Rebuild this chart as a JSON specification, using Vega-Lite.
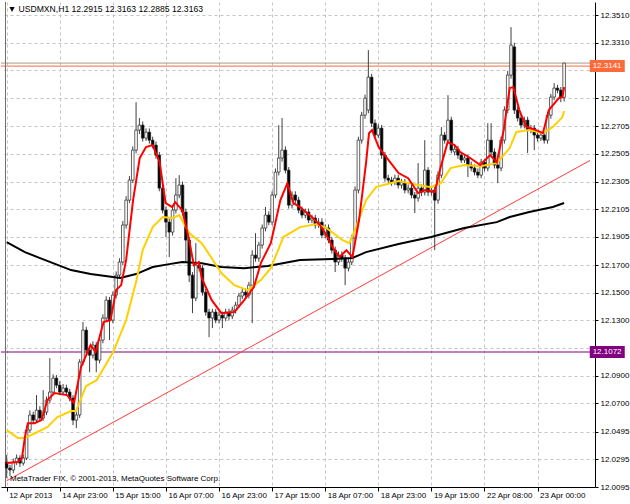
{
 "$schema": "https://vega.github.io/schema/vega-lite/v6.json",
 "width": 594, "height": 485,
 "autosize": {"type": "none"},
 "padding": {"left": 1, "top": 2, "right": 35, "bottom": 17},
 "background": "white",
 "config": {"view": {"stroke": null}, "font": "Liberation Sans",
   "axis": {"labelFont": "Liberation Sans", "labelFontSize": 8, "labelColor": "black", "domainColor": "black", "tickColor": "black", "gridColor": "#c4c4c4", "gridDash": [3,3], "title": null, "labelOverlap": false, "labelSeparation": 0}},
 "datasets": {
  "bars": [
{"i":0,"o":12.0276,"h":12.0326,"l":12.0160,"c":12.0232},
{"i":1,"o":12.0232,"h":12.0255,"l":12.0174,"c":12.0218},
{"i":2,"o":12.0218,"h":12.0300,"l":12.0195,"c":12.0276},
{"i":3,"o":12.0276,"h":12.0330,"l":12.0255,"c":12.0304},
{"i":4,"o":12.0304,"h":12.0325,"l":12.0240,"c":12.0268},
{"i":5,"o":12.0268,"h":12.0330,"l":12.0250,"c":12.0304},
{"i":6,"o":12.0304,"h":12.0535,"l":12.0290,"c":12.0507},
{"i":7,"o":12.0507,"h":12.0650,"l":12.0490,"c":12.0616},
{"i":8,"o":12.0616,"h":12.0640,"l":12.0555,"c":12.0579},
{"i":9,"o":12.0579,"h":12.0760,"l":12.0560,"c":12.0651},
{"i":10,"o":12.0651,"h":12.0680,"l":12.0570,"c":12.0594},
{"i":11,"o":12.0594,"h":12.0796,"l":12.0575,"c":12.0637},
{"i":12,"o":12.0637,"h":12.0750,"l":12.0615,"c":12.0724},
{"i":13,"o":12.0724,"h":12.1028,"l":12.0700,"c":12.0782},
{"i":14,"o":12.0782,"h":12.0910,"l":12.0765,"c":12.0883},
{"i":15,"o":12.0883,"h":12.0905,"l":12.0810,"c":12.0832},
{"i":16,"o":12.0832,"h":12.0860,"l":12.0760,"c":12.0782},
{"i":17,"o":12.0782,"h":12.0840,"l":12.0765,"c":12.0811},
{"i":18,"o":12.0811,"h":12.0835,"l":12.0760,"c":12.0782},
{"i":19,"o":12.0782,"h":12.0805,"l":12.0715,"c":12.0738},
{"i":20,"o":12.0738,"h":12.0760,"l":12.0543,"c":12.0579},
{"i":21,"o":12.0579,"h":12.0640,"l":12.0522,"c":12.0616},
{"i":22,"o":12.0616,"h":12.1020,"l":12.0595,"c":12.0999},
{"i":23,"o":12.0999,"h":12.1289,"l":12.0975,"c":12.1230},
{"i":24,"o":12.1230,"h":12.1255,"l":12.1060,"c":12.1086},
{"i":25,"o":12.1086,"h":12.1110,"l":12.0926,"c":12.1049},
{"i":26,"o":12.1049,"h":12.1150,"l":12.1025,"c":12.1122},
{"i":27,"o":12.1122,"h":12.1145,"l":12.0926,"c":12.1013},
{"i":28,"o":12.1013,"h":12.1185,"l":12.0990,"c":12.1158},
{"i":29,"o":12.1158,"h":12.1345,"l":12.1135,"c":12.1318},
{"i":30,"o":12.1318,"h":12.1475,"l":12.1295,"c":12.1447},
{"i":31,"o":12.1447,"h":12.1470,"l":12.1158,"c":12.1303},
{"i":32,"o":12.1303,"h":12.1510,"l":12.1280,"c":12.1484},
{"i":33,"o":12.1484,"h":12.1655,"l":12.1460,"c":12.1628},
{"i":34,"o":12.1628,"h":12.1750,"l":12.1605,"c":12.1723},
{"i":35,"o":12.1723,"h":12.2020,"l":12.1700,"c":12.1991},
{"i":36,"o":12.1991,"h":12.2200,"l":12.1965,"c":12.2171},
{"i":37,"o":12.2171,"h":12.2345,"l":12.2150,"c":12.2316},
{"i":38,"o":12.2316,"h":12.2560,"l":12.2295,"c":12.2533},
{"i":39,"o":12.2533,"h":12.2880,"l":12.2510,"c":12.2678},
{"i":40,"o":12.2678,"h":12.2765,"l":12.2650,"c":12.2714},
{"i":41,"o":12.2714,"h":12.2740,"l":12.2595,"c":12.2620},
{"i":42,"o":12.2620,"h":12.2690,"l":12.2600,"c":12.2663},
{"i":43,"o":12.2663,"h":12.2690,"l":12.2580,"c":12.2605},
{"i":44,"o":12.2605,"h":12.2630,"l":12.2545,"c":12.2569},
{"i":45,"o":12.2569,"h":12.2595,"l":12.2470,"c":12.2497},
{"i":46,"o":12.2497,"h":12.2520,"l":12.2235,"c":12.2258},
{"i":47,"o":12.2258,"h":12.2280,"l":12.2075,"c":12.2099},
{"i":48,"o":12.2099,"h":12.2125,"l":12.1904,"c":12.2012},
{"i":49,"o":12.2012,"h":12.2040,"l":12.1759,"c":12.1940},
{"i":50,"o":12.1940,"h":12.2125,"l":12.1915,"c":12.2099},
{"i":51,"o":12.2099,"h":12.2330,"l":12.2075,"c":12.2208},
{"i":52,"o":12.2208,"h":12.2352,"l":12.2185,"c":12.2280},
{"i":53,"o":12.2280,"h":12.2305,"l":12.2060,"c":12.2085},
{"i":54,"o":12.2085,"h":12.2110,"l":12.1723,"c":12.1882},
{"i":55,"o":12.1882,"h":12.1905,"l":12.1578,"c":12.1628},
{"i":56,"o":12.1628,"h":12.1650,"l":12.1353,"c":12.1462},
{"i":57,"o":12.1462,"h":12.1860,"l":12.1440,"c":12.1701},
{"i":58,"o":12.1701,"h":12.1725,"l":12.1655,"c":12.1679},
{"i":59,"o":12.1679,"h":12.1700,"l":12.1480,"c":12.1505},
{"i":60,"o":12.1505,"h":12.1530,"l":12.1335,"c":12.1361},
{"i":61,"o":12.1361,"h":12.1385,"l":12.1180,"c":12.1318},
{"i":62,"o":12.1318,"h":12.1385,"l":12.1245,"c":12.1361},
{"i":63,"o":12.1361,"h":12.1385,"l":12.1280,"c":12.1303},
{"i":64,"o":12.1303,"h":12.1365,"l":12.1280,"c":12.1339},
{"i":65,"o":12.1339,"h":12.1365,"l":12.1245,"c":12.1318},
{"i":66,"o":12.1318,"h":12.1385,"l":12.1295,"c":12.1361},
{"i":67,"o":12.1361,"h":12.1385,"l":12.1305,"c":12.1332},
{"i":68,"o":12.1332,"h":12.1400,"l":12.1310,"c":12.1375},
{"i":69,"o":12.1375,"h":12.1435,"l":12.1350,"c":12.1411},
{"i":70,"o":12.1411,"h":12.1500,"l":12.1390,"c":12.1477},
{"i":71,"o":12.1477,"h":12.1530,"l":12.1455,"c":12.1505},
{"i":72,"o":12.1505,"h":12.1530,"l":12.1460,"c":12.1484},
{"i":73,"o":12.1484,"h":12.1580,"l":12.1460,"c":12.1556},
{"i":74,"o":12.1556,"h":12.1809,"l":12.1281,"c":12.1773},
{"i":75,"o":12.1773,"h":12.1932,"l":12.1725,"c":12.1751},
{"i":76,"o":12.1751,"h":12.1870,"l":12.1725,"c":12.1846},
{"i":77,"o":12.1846,"h":12.1995,"l":12.1820,"c":12.1969},
{"i":78,"o":12.1969,"h":12.2121,"l":12.1945,"c":12.2063},
{"i":79,"o":12.2063,"h":12.2090,"l":12.1990,"c":12.2012},
{"i":80,"o":12.2012,"h":12.2235,"l":12.1990,"c":12.2208},
{"i":81,"o":12.2208,"h":12.2400,"l":12.2185,"c":12.2374},
{"i":82,"o":12.2374,"h":12.2714,"l":12.2350,"c":12.2476},
{"i":83,"o":12.2476,"h":12.2765,"l":12.2450,"c":12.2533},
{"i":84,"o":12.2533,"h":12.2560,"l":12.2365,"c":12.2388},
{"i":85,"o":12.2388,"h":12.2410,"l":12.2110,"c":12.2135},
{"i":86,"o":12.2135,"h":12.2235,"l":12.2110,"c":12.2208},
{"i":87,"o":12.2208,"h":12.2235,"l":12.2145,"c":12.2171},
{"i":88,"o":12.2171,"h":12.2195,"l":12.2075,"c":12.2099},
{"i":89,"o":12.2099,"h":12.2125,"l":12.2040,"c":12.2063},
{"i":90,"o":12.2063,"h":12.2110,"l":12.2040,"c":12.2085},
{"i":91,"o":12.2085,"h":12.2110,"l":12.2005,"c":12.2027},
{"i":92,"o":12.2027,"h":12.2065,"l":12.2005,"c":12.2041},
{"i":93,"o":12.2041,"h":12.2065,"l":12.1965,"c":12.1991},
{"i":94,"o":12.1991,"h":12.2040,"l":12.1970,"c":12.2012},
{"i":95,"o":12.2012,"h":12.2040,"l":12.1895,"c":12.1918},
{"i":96,"o":12.1918,"h":12.1995,"l":12.1895,"c":12.1969},
{"i":97,"o":12.1969,"h":12.1995,"l":12.1860,"c":12.1882},
{"i":98,"o":12.1882,"h":12.1905,"l":12.1785,"c":12.1809},
{"i":99,"o":12.1809,"h":12.1835,"l":12.1651,"c":12.1723},
{"i":100,"o":12.1723,"h":12.1800,"l":12.1700,"c":12.1773},
{"i":101,"o":12.1773,"h":12.1800,"l":12.1725,"c":12.1751},
{"i":102,"o":12.1751,"h":12.1775,"l":12.1556,"c":12.1679},
{"i":103,"o":12.1679,"h":12.1750,"l":12.1655,"c":12.1723},
{"i":104,"o":12.1723,"h":12.1920,"l":12.1700,"c":12.1896},
{"i":105,"o":12.1896,"h":12.2270,"l":12.1875,"c":12.2244},
{"i":106,"o":12.2244,"h":12.2630,"l":12.2220,"c":12.2605},
{"i":107,"o":12.2605,"h":12.2810,"l":12.2580,"c":12.2786},
{"i":108,"o":12.2786,"h":12.2935,"l":12.2760,"c":12.2909},
{"i":109,"o":12.2823,"h":12.3257,"l":12.2800,"c":12.3061},
{"i":110,"o":12.3061,"h":12.3085,"l":12.2700,"c":12.2728},
{"i":111,"o":12.2728,"h":12.2755,"l":12.2615,"c":12.2642},
{"i":112,"o":12.2642,"h":12.2720,"l":12.2620,"c":12.2692},
{"i":113,"o":12.2692,"h":12.2715,"l":12.2470,"c":12.2497},
{"i":114,"o":12.2497,"h":12.2520,"l":12.2305,"c":12.2330},
{"i":115,"o":12.2330,"h":12.2355,"l":12.2290,"c":12.2316},
{"i":116,"o":12.2316,"h":12.2340,"l":12.2275,"c":12.2301},
{"i":117,"o":12.2301,"h":12.2355,"l":12.2280,"c":12.2330},
{"i":118,"o":12.2330,"h":12.2355,"l":12.2255,"c":12.2280},
{"i":119,"o":12.2280,"h":12.2325,"l":12.2255,"c":12.2301},
{"i":120,"o":12.2301,"h":12.2325,"l":12.2220,"c":12.2244},
{"i":121,"o":12.2244,"h":12.2285,"l":12.2220,"c":12.2258},
{"i":122,"o":12.2258,"h":12.2285,"l":12.2185,"c":12.2208},
{"i":123,"o":12.2208,"h":12.2230,"l":12.2078,"c":12.2186},
{"i":124,"o":12.2186,"h":12.2439,"l":12.2160,"c":12.2258},
{"i":125,"o":12.2258,"h":12.2285,"l":12.2200,"c":12.2229},
{"i":126,"o":12.2229,"h":12.2605,"l":12.2205,"c":12.2388},
{"i":127,"o":12.2388,"h":12.2410,"l":12.2200,"c":12.2229},
{"i":128,"o":12.2229,"h":12.2270,"l":12.2205,"c":12.2244},
{"i":129,"o":12.2244,"h":12.2270,"l":12.1809,"c":12.2171},
{"i":130,"o":12.2171,"h":12.2380,"l":12.2145,"c":12.2352},
{"i":131,"o":12.2352,"h":12.2700,"l":12.2330,"c":12.2642},
{"i":132,"o":12.2642,"h":12.2665,"l":12.2580,"c":12.2605},
{"i":133,"o":12.2605,"h":12.2931,"l":12.2580,"c":12.2750},
{"i":134,"o":12.2750,"h":12.2775,"l":12.2510,"c":12.2533},
{"i":135,"o":12.2520,"h":12.2565,"l":12.2495,"c":12.2540},
{"i":136,"o":12.2540,"h":12.2565,"l":12.2470,"c":12.2497},
{"i":137,"o":12.2497,"h":12.2520,"l":12.2440,"c":12.2461},
{"i":138,"o":12.2461,"h":12.2500,"l":12.2440,"c":12.2476},
{"i":139,"o":12.2476,"h":12.2500,"l":12.2338,"c":12.2425},
{"i":140,"o":12.2425,"h":12.2450,"l":12.2380,"c":12.2403},
{"i":141,"o":12.2403,"h":12.2430,"l":12.2350,"c":12.2374},
{"i":142,"o":12.2374,"h":12.2400,"l":12.2330,"c":12.2352},
{"i":143,"o":12.2352,"h":12.2470,"l":12.2330,"c":12.2446},
{"i":144,"o":12.2446,"h":12.2470,"l":12.2380,"c":12.2403},
{"i":145,"o":12.2403,"h":12.2728,"l":12.2380,"c":12.2605},
{"i":146,"o":12.2605,"h":12.2728,"l":12.2495,"c":12.2519},
{"i":147,"o":12.2519,"h":12.2545,"l":12.2400,"c":12.2425},
{"i":148,"o":12.2425,"h":12.2450,"l":12.2294,"c":12.2403},
{"i":149,"o":12.2403,"h":12.2630,"l":12.2380,"c":12.2605},
{"i":150,"o":12.2605,"h":12.2850,"l":12.2580,"c":12.2823},
{"i":151,"o":12.2823,"h":12.3105,"l":12.2800,"c":12.3076},
{"i":152,"o":12.3076,"h":12.3423,"l":12.3050,"c":12.3293},
{"i":153,"o":12.3280,"h":12.3310,"l":12.2795,"c":12.2823},
{"i":154,"o":12.2823,"h":12.2850,"l":12.2740,"c":12.2765},
{"i":155,"o":12.2765,"h":12.2790,"l":12.2690,"c":12.2714},
{"i":156,"o":12.2714,"h":12.2775,"l":12.2690,"c":12.2750},
{"i":157,"o":12.2750,"h":12.2775,"l":12.2512,"c":12.2678},
{"i":158,"o":12.2678,"h":12.2715,"l":12.2655,"c":12.2692},
{"i":159,"o":12.2692,"h":12.2715,"l":12.2533,"c":12.2642},
{"i":160,"o":12.2642,"h":12.2665,"l":12.2595,"c":12.2620},
{"i":161,"o":12.2620,"h":12.2665,"l":12.2600,"c":12.2642},
{"i":162,"o":12.2642,"h":12.2665,"l":12.2580,"c":12.2605},
{"i":163,"o":12.2605,"h":12.2810,"l":12.2580,"c":12.2786},
{"i":164,"o":12.2786,"h":12.2940,"l":12.2760,"c":12.2917},
{"i":165,"o":12.2917,"h":12.3018,"l":12.2895,"c":12.2982},
{"i":166,"o":12.2982,"h":12.3005,"l":12.2945,"c":12.2967},
{"i":167,"o":12.2967,"h":12.2990,"l":12.2880,"c":12.2917},
{"i":168,"o":12.2915,"h":12.3163,"l":12.2885,"c":12.3163}
  ],
  "slow": [
{"i":0,"p":12.1868},{"i":5.5,"p":12.1795},{"i":9.3,"p":12.1759},{"i":19.4,"p":12.1665},{"i":25.3,"p":12.1636},{"i":34.2,"p":12.1607},{"i":39,"p":12.1636},{"i":44,"p":12.1687},{"i":49,"p":12.1708},{"i":52.9,"p":12.1723},{"i":58.8,"p":12.1715},{"i":64.7,"p":12.1687},{"i":71.6,"p":12.1679},{"i":78.7,"p":12.1694},{"i":88.4,"p":12.1737},{"i":98.2,"p":12.1745},{"i":104.2,"p":12.1752},{"i":108.3,"p":12.1795},{"i":118.1,"p":12.1853},{"i":127.9,"p":12.1904},{"i":137.9,"p":12.1969},{"i":147.7,"p":12.2012},{"i":151.6,"p":12.2049},{"i":157.5,"p":12.2085},{"i":164.6,"p":12.2121},{"i":168,"p":12.2150}
  ],
  "mid": [
{"i":0,"p":12.0507},{"i":3.4,"p":12.0449},{"i":5.5,"p":12.0449},{"i":9.3,"p":12.0493},{"i":12.3,"p":12.0529},{"i":15.3,"p":12.0601},{"i":19.4,"p":12.0645},{"i":20.9,"p":12.0645},{"i":23.9,"p":12.0825},{"i":27.1,"p":12.0868},{"i":32.1,"p":12.1072},{"i":36,"p":12.1303},{"i":39,"p":12.1578},{"i":41,"p":12.1809},{"i":44,"p":12.1976},{"i":47,"p":12.2049},{"i":49.9,"p":12.2041},{"i":52,"p":12.2063},{"i":55,"p":12.1933},{"i":58.8,"p":12.1860},{"i":64.7,"p":12.1643},{"i":68.6,"p":12.1556},{"i":72.7,"p":12.1520},{"i":76.6,"p":12.1592},{"i":79.6,"p":12.1679},{"i":83.4,"p":12.1904},{"i":88.4,"p":12.1976},{"i":93.5,"p":12.1998},{"i":96.4,"p":12.1969},{"i":101.2,"p":12.1882},{"i":103.3,"p":12.1860},{"i":105.3,"p":12.1976},{"i":108.3,"p":12.2171},{"i":111.3,"p":12.2265},{"i":118.1,"p":12.2309},{"i":124,"p":12.2280},{"i":127.9,"p":12.2265},{"i":130.8,"p":12.2294},{"i":133.8,"p":12.2403},{"i":137.9,"p":12.2425},{"i":142.7,"p":12.2417},{"i":147.7,"p":12.2439},{"i":151.6,"p":12.2548},{"i":153.6,"p":12.2664},{"i":157.5,"p":12.2678},{"i":161.6,"p":12.2656},{"i":164.6,"p":12.2700},{"i":167.5,"p":12.2772},{"i":168,"p":12.2816}
  ],
  "fast": [
{"i":0,"p":12.0268},{"i":3.4,"p":12.0276},{"i":4.6,"p":12.0304},{"i":5.5,"p":12.0456},{"i":6.4,"p":12.0557},{"i":8.4,"p":12.0557},{"i":10.5,"p":12.0579},{"i":12.3,"p":12.0724},{"i":14.4,"p":12.0775},{"i":18.2,"p":12.0760},{"i":20.3,"p":12.0703},{"i":22.4,"p":12.0963},{"i":25.3,"p":12.1122},{"i":26.8,"p":12.1072},{"i":29.2,"p":12.1289},{"i":31.3,"p":12.1303},{"i":33,"p":12.1520},{"i":34.5,"p":12.1556},{"i":36,"p":12.1737},{"i":38.1,"p":12.2171},{"i":40.1,"p":12.2476},{"i":42,"p":12.2555},{"i":44,"p":12.2569},{"i":46.1,"p":12.2446},{"i":47.9,"p":12.2150},{"i":49.9,"p":12.2121},{"i":50.8,"p":12.2157},{"i":52.9,"p":12.2099},{"i":55,"p":12.1882},{"i":56.4,"p":12.1701},{"i":57.9,"p":12.1723},{"i":58.8,"p":12.1607},{"i":61.8,"p":12.1447},{"i":64.7,"p":12.1353},{"i":68.6,"p":12.1361},{"i":71.6,"p":12.1447},{"i":74.5,"p":12.1542},{"i":76.6,"p":12.1715},{"i":79.6,"p":12.1860},{"i":82.5,"p":12.2171},{"i":84.6,"p":12.2294},{"i":86.4,"p":12.2150},{"i":88.4,"p":12.2121},{"i":92.3,"p":12.2041},{"i":94.4,"p":12.1991},{"i":96.4,"p":12.1918},{"i":98.2,"p":12.1831},{"i":100.3,"p":12.1759},{"i":102.4,"p":12.1809},{"i":104.2,"p":12.1759},{"i":106.2,"p":12.2027},{"i":108.3,"p":12.2439},{"i":109.2,"p":12.2656},{"i":110.1,"p":12.2678},{"i":112.1,"p":12.2555},{"i":115.1,"p":12.2461},{"i":118.1,"p":12.2367},{"i":121,"p":12.2330},{"i":124,"p":12.2222},{"i":126.1,"p":12.2244},{"i":129,"p":12.2229},{"i":130.8,"p":12.2410},{"i":132.9,"p":12.2591},{"i":135,"p":12.2569},{"i":136.7,"p":12.2519},{"i":139.7,"p":12.2476},{"i":142.7,"p":12.2425},{"i":145.7,"p":12.2497},{"i":147.7,"p":12.2446},{"i":149.8,"p":12.2678},{"i":151.6,"p":12.2982},{"i":152.7,"p":12.2989},{"i":154.5,"p":12.2823},{"i":156.6,"p":12.2700},{"i":159.6,"p":12.2678},{"i":161.6,"p":12.2656},{"i":163.4,"p":12.2823},{"i":166.4,"p":12.2909},{"i":167.5,"p":12.2917},{"i":168,"p":12.2989}
  ],
  "trend": [{"i":0,"p":12.0140},{"i":175.8,"p":12.2458}],
  "hl": [{"p":12.3163,"k":"bid"},{"p":12.3141,"k":"level"},{"p":12.1072,"k":"support"}],
  "lbl": [{"p":12.3141,"t":"12.3141","k":"level"},{"p":12.1072,"t":"12.1072","k":"support"}],
  "head": [{"i":0.3,"p":12.3554,"t":"▼ USDMXN,H1  12.2915 12.3163 12.2885 12.3163"}],
  "foot": [{"i":1,"p":12.0155,"t":"MetaTrader FIX, © 2001-2013, MetaQuotes Software Corp."}]
 },
 "layer": [
  {"data": {"name": "hl"}, "mark": {"type": "rule", "strokeWidth": 1},
   "encoding": {"y": {"field": "p", "type": "quantitative", "scale": {"domain": [12.0095, 12.3605], "nice": false, "zero": false},
      "axis": {"orient": "right", "values": [12.3510,12.3310,12.3110,12.2910,12.2705,12.2505,12.2305,12.2105,12.1905,12.1700,12.1500,12.1300,12.1100,12.0900,12.0700,12.0495,12.0295,12.0095], "tickCount": 40, "labelExpr": "(abs(datum.value - 12.311) < 0.0001 || abs(datum.value - 12.11) < 0.0001) ? '' : format(datum.value, '.4f')", "labelAlign": "left", "labelBaseline": "middle", "tickSize": 3, "labelPadding": 2, "grid": true, "labelOverlap": false, "labelFlush": false, "labelBound": false}},
     "color": {"field": "k", "type": "nominal", "scale": {"domain": ["bid","level","support"], "range": ["#a89890","#ff6a3a","#800080"]}, "legend": null}}},
  {"data": {"name": "trend"}, "mark": {"type": "line", "color": "#ff3b3b", "strokeWidth": 1},
   "encoding": {"x": {"field": "i", "type": "quantitative", "scale": {"domain": [-0.2, 175.8], "nice": false, "zero": false},
      "axis": {"orient": "bottom", "values": [0,16,32,48,64,80,96,112,128,144,160], "tickCount": 40, "labelExpr": "['12 Apr 2013','14 Apr 23:00','15 Apr 15:00','16 Apr 07:00','16 Apr 23:00','17 Apr 15:00','18 Apr 07:00','18 Apr 23:00','19 Apr 15:00','22 Apr 08:00','23 Apr 00:00'][round(datum.value/16)]", "labelAlign": "left", "labelOffset": 2, "labelPadding": 0, "tickSize": 4, "grid": true, "labelOverlap": false, "labelFlush": false, "labelBound": false}},
     "y": {"field": "p", "type": "quantitative"}}},
  {"data": {"name": "trend"}, "mark": {"type": "rule", "color": "#707070", "strokeWidth": 1},
   "encoding": {"x": {"datum": -0.35}}},
  {"data": {"name": "bars"}, "mark": {"type": "rule", "color": "#404040", "strokeWidth": 1},
   "encoding": {"x": {"field": "i", "type": "quantitative"}, "y": {"field": "l", "type": "quantitative"}, "y2": {"field": "h"}}},
  {"data": {"name": "bars"}, "mark": {"type": "bar", "width": 2.6, "stroke": "#202020", "strokeWidth": 0.7},
   "encoding": {"x": {"field": "i", "type": "quantitative"}, "y": {"field": "o", "type": "quantitative"}, "y2": {"field": "c"},
     "fill": {"condition": {"test": "datum.c >= datum.o", "value": "white"}, "value": "black"}}},
  {"data": {"name": "slow"}, "mark": {"type": "line", "color": "black", "strokeWidth": 2},
   "encoding": {"x": {"field": "i", "type": "quantitative"}, "y": {"field": "p", "type": "quantitative"}}},
  {"data": {"name": "mid"}, "mark": {"type": "line", "color": "#ffd000", "strokeWidth": 2},
   "encoding": {"x": {"field": "i", "type": "quantitative"}, "y": {"field": "p", "type": "quantitative"}}},
  {"data": {"name": "fast"}, "mark": {"type": "line", "color": "#ff0000", "strokeWidth": 2},
   "encoding": {"x": {"field": "i", "type": "quantitative"}, "y": {"field": "p", "type": "quantitative"}}},
  {"data": {"name": "lbl"}, "mark": {"type": "tick", "orient": "horizontal", "size": 35, "thickness": 12, "opacity": 1},
   "encoding": {"x": {"datum": 181}, "y": {"field": "p", "type": "quantitative"},
     "color": {"field": "k", "type": "nominal", "scale": {"domain": ["bid","level","support"], "range": ["#a89890","#ff4500","#800080"]}, "legend": null}}},
  {"data": {"name": "lbl"}, "mark": {"type": "text", "color": "white", "align": "left", "baseline": "middle", "fontSize": 8, "font": "Liberation Sans"},
   "encoding": {"x": {"datum": 176.6}, "y": {"field": "p", "type": "quantitative"}, "text": {"field": "t"}}},
  {"data": {"name": "head"}, "mark": {"type": "text", "color": "black", "align": "left", "baseline": "middle", "fontSize": 8.6, "font": "Liberation Sans"},
   "encoding": {"x": {"field": "i", "type": "quantitative"}, "y": {"field": "p", "type": "quantitative"}, "text": {"field": "t"}}},
  {"data": {"name": "foot"}, "mark": {"type": "text", "color": "black", "align": "left", "baseline": "middle", "fontSize": 8, "font": "Liberation Sans"},
   "encoding": {"x": {"field": "i", "type": "quantitative"}, "y": {"field": "p", "type": "quantitative"}, "text": {"field": "t"}}}
 ]
}
